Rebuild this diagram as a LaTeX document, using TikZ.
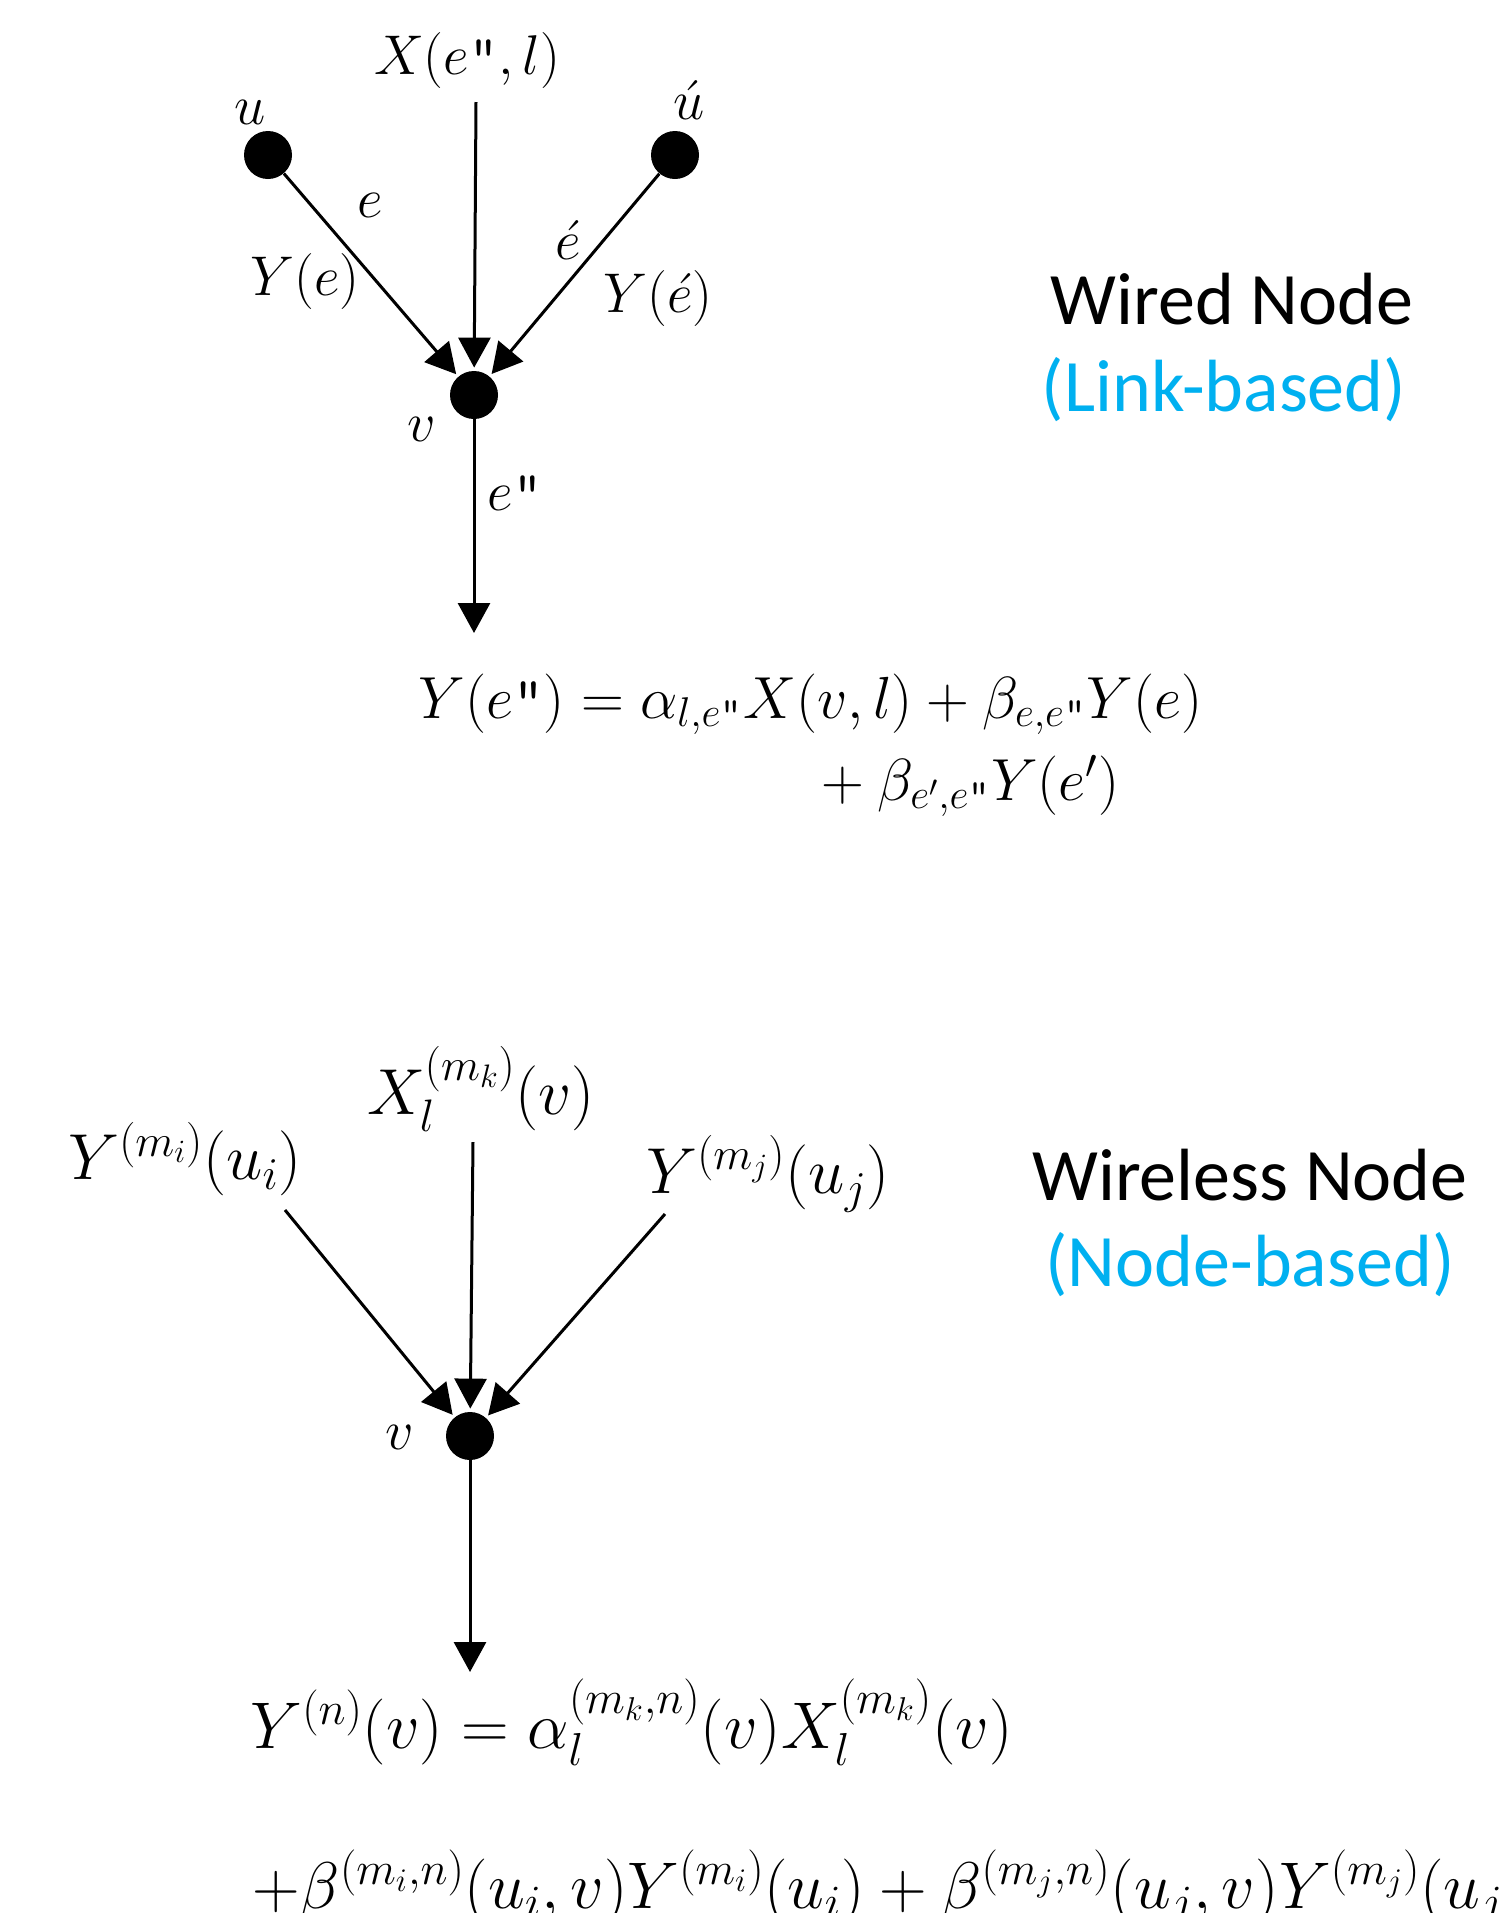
\RequirePackage{fix-cm}
\documentclass[tikz,border=0pt]{standalone}
\usepackage{amsmath}
\usepackage{fontspec}
\newfontfamily\titlefont{Carlito}
\usetikzlibrary{arrows.meta}
\definecolor{titleblue}{HTML}{00B0F0}
\newcommand{\dq}{\text{\normalfont\ttfamily"}}
\begin{document}
\begin{tikzpicture}[x=0.5pt,y=-0.5pt,
  dot/.style={circle,fill=black,inner sep=0pt,minimum size=24pt},
  lbl/.style={inner sep=0pt,font=\fontsize{28}{33}\selectfont},
  biglbl/.style={inner sep=0pt,font=\fontsize{32.5}{39}\selectfont},
  arr/.style={line width=1.5pt,shorten >=1.5pt,-{Triangle[length=15pt,width=16pt]}},
  outarr/.style={line width=1.5pt,-{Triangle[length=15pt,width=16pt]}},
  ttl/.style={inner sep=0pt,font=\titlefont\fontsize{37}{44}\selectfont},
  eqa/.style={inner sep=0pt,anchor=base west,font=\fontsize{29.7}{36}\selectfont},
  eqb/.style={inner sep=0pt,anchor=base west,font=\fontsize{33}{40}\selectfont}]
\useasboundingbox[fill=white] (0,0) rectangle (1503,1913);

% ---------- wired node ----------
\node[dot] (u) at (268,155) {};
\node[dot] (up) at (675,155) {};
\node[dot] (v) at (474,395) {};
\coordinate (xs) at (476,102);
\coordinate (out1) at (474,633);

\node[lbl] (ulab) at (250,112) {$u$};
\node[lbl] (uplab) at (689,100) {$\acute{u}$};
\node[lbl] (xlab) at (467,60) {$X(e\dq,l)$};
\node[lbl] (elab) at (370,205) {$e$};
\node[lbl] (yelab) at (305,281) {$Y(e)$};
\node[lbl] (eplab) at (568,240) {$\acute{e}$};
\node[lbl] (yeplab) at (658,298) {$Y(\acute{e})$};
\node[lbl] (vlab) at (422,429) {$v$};
\node[lbl] (eddlab) at (515,493) {$e\dq$};

\draw[arr] (u) -- (v);
\draw[arr] (up) -- (v);
\draw[arr] (xs) -- (v);
\draw[outarr] (v) -- (out1);

\node[ttl] (t1) at (1232,299) {Wired Node};
\node[ttl,text=titleblue] (t2) at (1224,390) {(Link-based)};

\node[eqa] (eq1a) at (418,718) {$Y(e\dq) = \alpha_{l,e\dq}X(v,l) + \beta_{e,e\dq}Y(e)$};
\node[eqa] (eq1b) at (808,800) {${}+\beta_{e',e\dq}Y(e')$};

% ---------- wireless node ----------
\node[dot] (v2) at (470,1436) {};
\coordinate (ls) at (285,1210);
\coordinate (cs) at (473,1142);
\coordinate (rs) at (665,1214);
\coordinate (out2) at (470,1672);

\node[biglbl] (xklab) at (481,1089) {$X_l^{(m_k)}(v)$};
\node[biglbl] (yilab) at (185,1159) {$Y^{(m_i)}(u_i)$};
\node[biglbl] (yjlab) at (768,1174) {$Y^{(m_j)}(u_j)$};
\node[lbl] (v2lab) at (400,1437) {$v$};

\draw[arr] (ls) -- (v2);
\draw[arr] (cs) -- (v2);
\draw[arr] (rs) -- (v2);
\draw[outarr] (v2) -- (out2);

\node[ttl] (t3) at (1250,1175) {Wireless Node};
\node[ttl,text=titleblue] (t4) at (1250,1265) {(Node-based)};

\node[eqb] (eq2a) at (250,1748) {$Y^{(n)}(v) = \alpha_l^{(m_k,n)}(v)X_l^{(m_k)}(v)$};
\node[eqb] (eq2b) at (252,1908) {$+\beta^{(m_i,n)}(u_i,v)Y^{(m_i)}(u_i) + \beta^{(m_j,n)}(u_j,v)Y^{(m_j)}(u_j)$};
\end{tikzpicture}
\end{document}
